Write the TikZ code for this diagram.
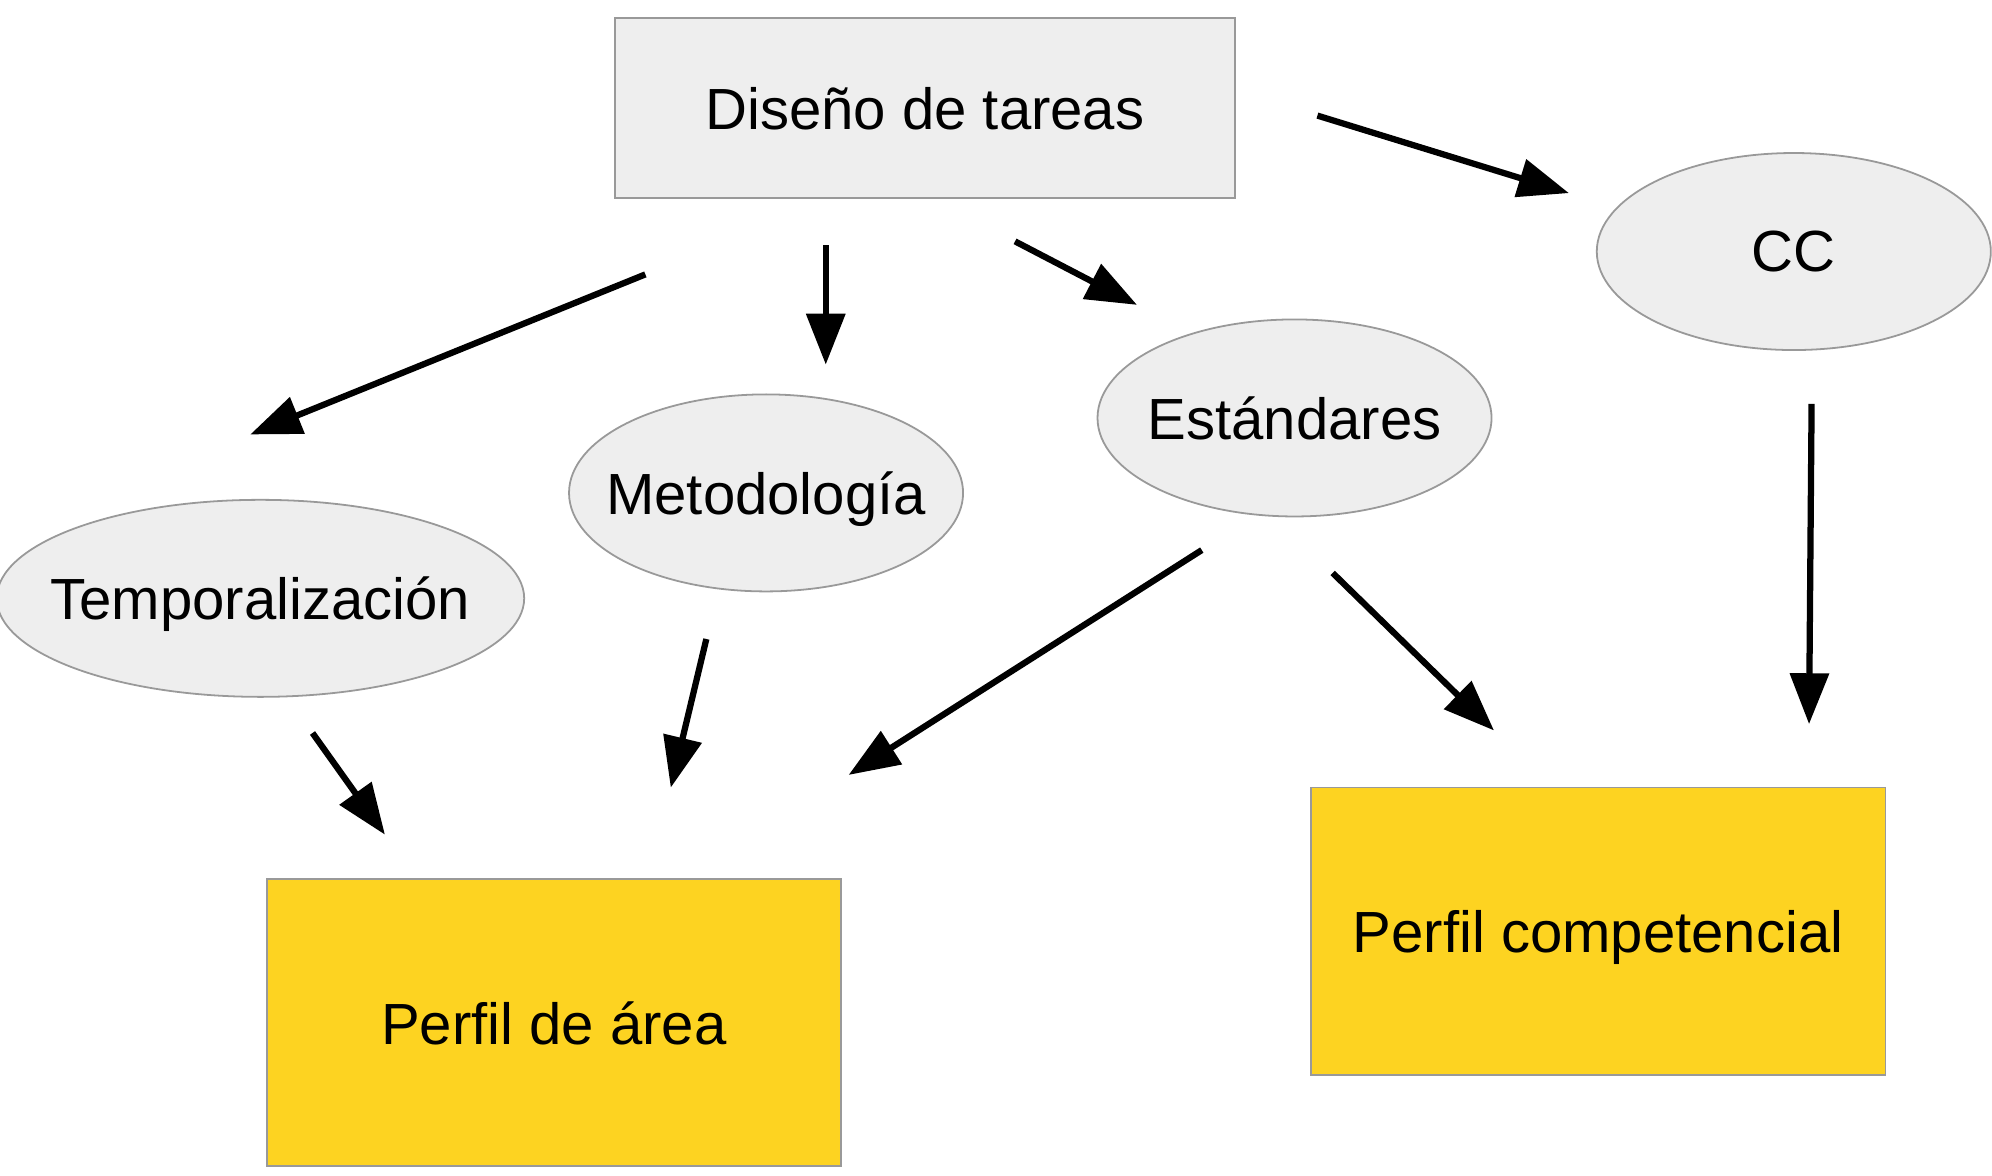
\documentclass[tikz,border=0pt]{standalone}
\usepackage{fontspec}
\setmainfont{Liberation Sans}
\usepackage{xcolor}
\usetikzlibrary{shapes.geometric,arrows.meta}
\definecolor{boxgray}{HTML}{EEEEEE}
\definecolor{boxyellow}{HTML}{FDD321}
\definecolor{linegray}{HTML}{999999}
\tikzstyle{task}=[draw=linegray, fill=boxgray, shape=rectangle, thin, text depth=0pt, minimum width=4.88cm, minimum height=1.42cm]
\tikzstyle{profile}=[draw=linegray, fill=boxyellow, shape=rectangle, thin, text depth=0pt, minimum width=4.52cm, minimum height=2.26cm]
\tikzstyle{oval}=[draw=linegray, fill=boxgray, shape=ellipse, thin, inner sep=0pt, text depth=0pt, minimum width=3.1cm, minimum height=1.55cm]
\tikzstyle{arrow}=[line width=1.4pt, -{Triangle[length=0.4cm,width=0.3cm]}]

\begin{document}
\begin{tikzpicture}[x=0.01cm, y=-0.01cm, font=\fontsize{13}{15}\selectfont]
            \useasboundingbox (0,0) rectangle (1568,925);
            \node[task] (dis) at (728,85) {Diseño de tareas};
            \node[oval] (cc) at (1412,198) {\makebox[0pt]{CC}};
            \node[oval] (est) at (1019,329) {\makebox[0pt]{Estándares}};
            \node[oval] (met) at (603,388) {\makebox[0pt]{Metodología}};
            \node[oval, minimum width=4.15cm] (temp) at (205,471) {\makebox[0pt]{Temporalización}};
            \node[profile] (area) at (436,805) {Perfil de área};
            \node[profile] (comp) at (1258,733) {Perfil competencial};
            % arrow ends, the arrows float between the nodes
            \coordinate (dis-cc) at (1037,91);   \coordinate (cc-in) at (1235,152);
            \coordinate (dis-temp) at (508,216); \coordinate (temp-in) at (197,342);
            \coordinate (dis-met) at (650,193);  \coordinate (met-in) at (650,287);
            \coordinate (dis-est) at (799,190);  \coordinate (est-in) at (895,240);
            \coordinate (cc-out) at (1426,318);  \coordinate (comp-in1) at (1424,570);
            \coordinate (est-out1) at (946,433); \coordinate (area-in1) at (668,610);
            \coordinate (est-out2) at (1049,451); \coordinate (comp-in2) at (1176,575);
            \coordinate (met-out) at (556,503);  \coordinate (area-in2) at (528,620);
            \coordinate (temp-out) at (246,577); \coordinate (area-in3) at (303,657);
            \draw[arrow] (dis-cc) -- (cc-in);
            \draw[arrow] (dis-temp) -- (temp-in);
            \draw[arrow] (dis-met) -- (met-in);
            \draw[arrow] (dis-est) -- (est-in);
            \draw[arrow] (cc-out) -- (comp-in1);
            \draw[arrow] (est-out1) -- (area-in1);
            \draw[arrow] (est-out2) -- (comp-in2);
            \draw[arrow] (met-out) -- (area-in2);
            \draw[arrow] (temp-out) -- (area-in3);
        \end{tikzpicture}
\end{document}
